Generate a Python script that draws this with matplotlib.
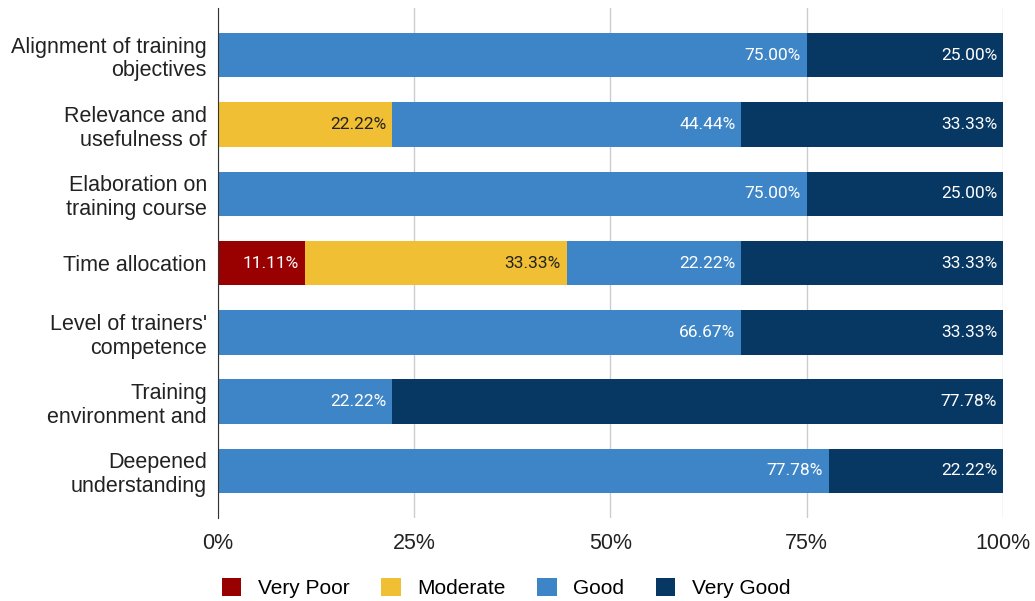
import matplotlib.pyplot as plt
import numpy as np

categories = [
    "Alignment of training\nobjectives",
    "Relevance and\nusefulness of",
    "Elaboration on\ntraining course",
    "Time allocation",
    "Level of trainers'\ncompetence",
    "Training\nenvironment and",
    "Deepened\nunderstanding",
]
very_poor = [0, 0, 0, 11.11, 0, 0, 0]
moderate = [0, 22.22, 0, 33.33, 0, 0, 0]
good = [75.00, 44.44, 75.00, 22.22, 66.67, 22.22, 77.78]
very_good = [25.00, 33.33, 25.00, 33.33, 33.33, 77.78, 22.22]

series = [
    ("Very Poor", very_poor, "#990000", "white"),
    ("Moderate", moderate, "#f1bf33", "#222222"),
    ("Good", good, "#3d85c6", "white"),
    ("Very Good", very_good, "#073763", "white"),
]

fig = plt.figure(figsize=(10.35, 6.01), dpi=100)
ax = fig.add_axes([0.2106, 0.138, 0.7585, 0.8487])

y = np.arange(len(categories))
left = np.zeros(len(categories))
for name, vals, color, tcolor in series:
    vals = np.array(vals)
    ax.barh(y, vals, left=left, height=0.64, color=color, label=name, zorder=3)
    for yi, (l, v) in enumerate(zip(left, vals)):
        if v > 0:
            ax.text(l + v - 0.75, yi, f"{v:.2f}%", ha="right", va="center",
                    color=tcolor, fontsize=12.5, family="Roboto", zorder=4)
    left += vals

ax.set_xlim(0, 100)
ax.set_ylim(6.68, -0.68)
ax.set_yticks(y)
ax.set_yticklabels(categories, fontsize=15.5, family="Liberation Sans",
                   ha="right", linespacing=1.18)
ax.set_xticks([0, 25, 50, 75, 100])
ax.set_xticklabels(["0%", "25%", "50%", "75%", "100%"], fontsize=15.5,
                   family="Liberation Sans")
ax.tick_params(axis="both", length=0, colors="#222222")
ax.tick_params(axis="x", pad=11)
ax.tick_params(axis="y", pad=8)
ax.grid(axis="x", color="#cccccc", linewidth=1, zorder=0)
for s in ["top", "right", "bottom"]:
    ax.spines[s].set_visible(False)
ax.spines["left"].set_color("#333333")
ax.spines["left"].set_zorder(5)

fig.legend(loc="lower center", bbox_to_anchor=(0.489, -0.027), ncol=4,
           frameon=False, prop={"family": "Liberation Sans", "size": 15},
           handlelength=0.95, handleheight=0.95, handletextpad=0.8,
           columnspacing=1.5)

fig.savefig("out.png", dpi=100)
